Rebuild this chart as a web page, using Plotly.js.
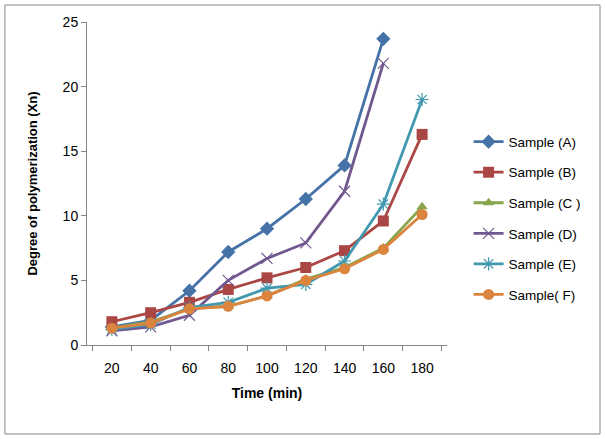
<!DOCTYPE html>
<html><head><meta charset="utf-8">
<script src="https://cdn.plot.ly/plotly-3.0.1.min.js"></script>
<style>html,body{margin:0;padding:0;background:#fff;}#chart{width:605px;height:439px;}</style>
</head><body><div id="chart"></div>
<script>
const times = ["20","40","60","80","100","120","140","160","180"];
const sampleA = [1.4, 1.9, 4.2, 7.2, 9.0, 11.3, 13.9, 23.7];
const sampleB = [1.8, 2.5, 3.3, 4.3, 5.2, 6.0, 7.3, 9.6, 16.3];
const sampleC = [1.3, 1.8, 2.8, 3.0, 3.8, 5.1, 6.0, 7.5, 10.7];
const sampleD = [1.1, 1.4, 2.3, 5.0, 6.7, 7.9, 11.9, 21.8];
const sampleE = [1.2, 1.6, 2.9, 3.3, 4.4, 4.7, 6.5, 10.9, 19.0];
const sampleF = [1.3, 1.7, 2.8, 3.0, 3.8, 5.0, 5.9, 7.4, 10.1];
const names = ["Sample (A)","Sample (B)","Sample (C )","Sample (D)","Sample (E)","Sample( F)"];

const styles = [
  {c:"#4572A7", s:"diamond", z:11},
  {c:"#AA4643", s:"square", z:11},
  {c:"#89A54E", s:"triangle-up", z:10},
  {c:"#71588F", s:"x-thin-open", z:11},
  {c:"#4198AF", s:"asterisk-open", z:11},
  {c:"#DB843D", s:"circle", z:11}
];
const series = [sampleA, sampleB, sampleC, sampleD, sampleE, sampleF];
const traces = series.map((vals, i) => ({
  x: times.slice(0, vals.length),
  y: vals,
  name: names[i],
  legendgroup: "g" + i,
  type: "scatter",
  mode: "lines+markers",
  line: {color: styles[i].c, width: 2.8},
  marker: {symbol: styles[i].s, size: styles[i].z, color: styles[i].c,
           line: {color: styles[i].c, width: (styles[i].s.indexOf("open")>=0 ? 1.2 : 0)}}
}));

const fam = "Liberation Sans, Arial, sans-serif";
const font = {family: fam, size: 13, color: "#000"};
const tickFont = {family: fam, size: 14, color: "#000"};
const layout = {
  width: 605, height: 439,
  margin: {l: 87, r: 158, t: 22, b: 94},
  paper_bgcolor: "#fff", plot_bgcolor: "#fff",
  font: font,
  showlegend: true,
  legend: {x: 1.06, xanchor: "left", y: 0.392, yanchor: "middle",
           traceorder: "grouped", tracegroupgap: 10,
           font: {family: fam, size: 13.5, color: "#000"}, bgcolor: "rgba(0,0,0,0)"},
  xaxis: {type: "category", categoryorder: "array", categoryarray: times,
          tickson: "boundaries", ticks: "outside", ticklen: 5, tickcolor: "#868686",
          showline: true, linecolor: "#868686", linewidth: 1, showgrid: false, zeroline: false,
          ticklabelstandoff: 10, tickfont: tickFont,
          title: {text: "<b>Time (min)</b>", font: {family: fam, size: 14, color: "#000"}, standoff: 13}},
  yaxis: {range: [0, 25], dtick: 5, tick0: 0, ticks: "outside", ticklen: 5, tickcolor: "#868686",
          showline: true, linecolor: "#868686", linewidth: 1, showgrid: false, zeroline: false,
          tickfont: tickFont,
          title: {text: "<b>Degree of polymerization (Xn)</b>", font: font, standoff: 22}},
  shapes: [{type: "rect", xref: "paper", yref: "paper",
            x0: -0.228, x1: 1.425, y0: -0.2755, y1: 1.0526,
            line: {color: "#868686", width: 1}, fillcolor: "rgba(0,0,0,0)", layer: "below"}]
};
Plotly.newPlot("chart", traces, layout, {displayModeBar: false, staticPlot: true});
</script></body></html>
